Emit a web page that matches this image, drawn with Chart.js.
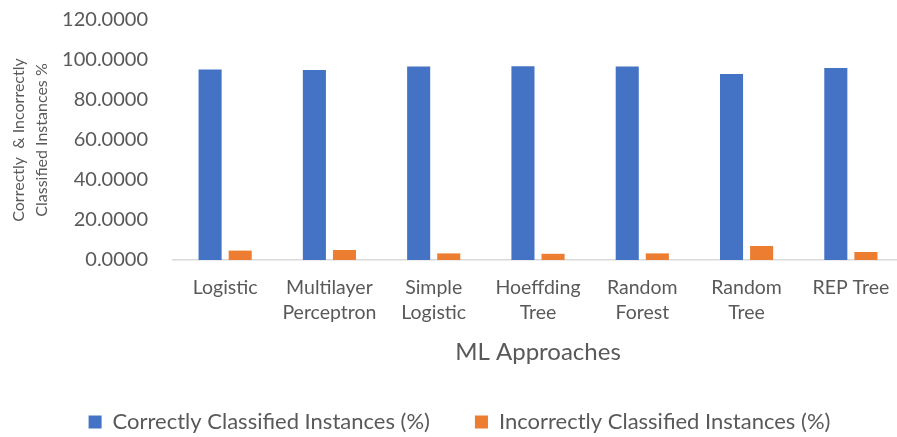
<!DOCTYPE html>
<html>
<head>
<meta charset="utf-8">
<script src="https://cdn.jsdelivr.net/npm/chart.js@4.4.1/dist/chart.umd.min.js"></script>
<style>
  html, body { margin: 0; padding: 0; background: #ffffff; overflow: hidden; }
  #wrap { position: relative; width: 919px; height: 443px; }
</style>
</head>
<body>
<div id="wrap"><canvas id="chart"></canvas></div>
<script>
// Classifier names (multi-line where the label wraps)
const categories = [
  'Logistic',
  ['Multilayer', 'Perceptron'],
  ['Simple', 'Logistic'],
  ['Hoeffding', 'Tree'],
  ['Random', 'Forest'],
  ['Random', 'Tree'],
  'REP Tree'
];

// Accuracy per classifier, in percent
const correctlyClassified   = [95.3, 95.0, 96.7, 96.9, 96.7, 93.0, 96.0];
const incorrectlyClassified = [4.7, 5.0, 3.3, 3.1, 3.3, 7.0, 4.0];

const seriesNames = ['Correctly Classified Instances (%)', 'Incorrectly Classified Instances (%)'];
const yTicks = { min: 0, max: 120, step: 20 };

const textColor = '#595959';
const fontFamily = 'Lato, "Open Sans", sans-serif';

new Chart(document.getElementById('chart'), {
  type: 'bar',
  data: {
    labels: categories,
    datasets: [
      {
        label: seriesNames[0],
        data: correctlyClassified,
        backgroundColor: '#4472C4',
        categoryPercentage: 0.577,
        barPercentage: 0.767
      },
      {
        label: seriesNames[1],
        data: incorrectlyClassified,
        backgroundColor: '#ED7D31',
        categoryPercentage: 0.577,
        barPercentage: 0.767
      }
    ]
  },
  options: {
    responsive: true,
    maintainAspectRatio: false,
    animation: false,
    devicePixelRatio: 1,
    layout: { padding: { left: 16, right: 16, top: 0, bottom: 0 } },
    plugins: {
      tooltip: { enabled: false },
      legend: {
        position: 'bottom',
        align: 'center',
        labels: {
          color: textColor,
          font: { family: fontFamily, size: 22 },
          boxWidth: 13,
          boxHeight: 13,
          padding: 45
        }
      }
    },
    scales: {
      x: {
        grid: { display: false, drawTicks: false },
        border: { display: true, color: '#D9D9D9', width: 1.5 },
        ticks: {
          color: textColor,
          font: { family: fontFamily, size: 19.5, lineHeight: 1.28 },
          padding: 15.5,
          maxRotation: 0,
          autoSkip: false
        },
        title: {
          display: true,
          text: 'ML Approaches',
          color: textColor,
          font: { family: fontFamily, size: 24, lineHeight: 1 },
          padding: { top: 0, bottom: 2 }
        },
        afterFit(scale) { scale.height = 106; }
      },
      y: {
        min: yTicks.min,
        max: yTicks.max,
        grid: { display: false, drawTicks: false },
        border: { display: false },
        ticks: {
          stepSize: yTicks.step,
          color: textColor,
          font: { family: fontFamily, size: 20 },
          padding: 25,
          callback: (v) => Number(v).toFixed(4)
        },
        title: {
          display: true,
          text: ['Correctly  & Incorrectly', 'Classified Instances %'],
          color: textColor,
          font: { family: fontFamily, size: 16, lineHeight: 1.45 },
          padding: { top: -8.5, bottom: 0 }
        },
        afterFit(scale) {
          scale.width = 157;
          // room above the top tick label only
          scale.paddingTop = 20;
          scale.paddingBottom = 0;
        }
      }
    }
  }
});
</script>
</body>
</html>
